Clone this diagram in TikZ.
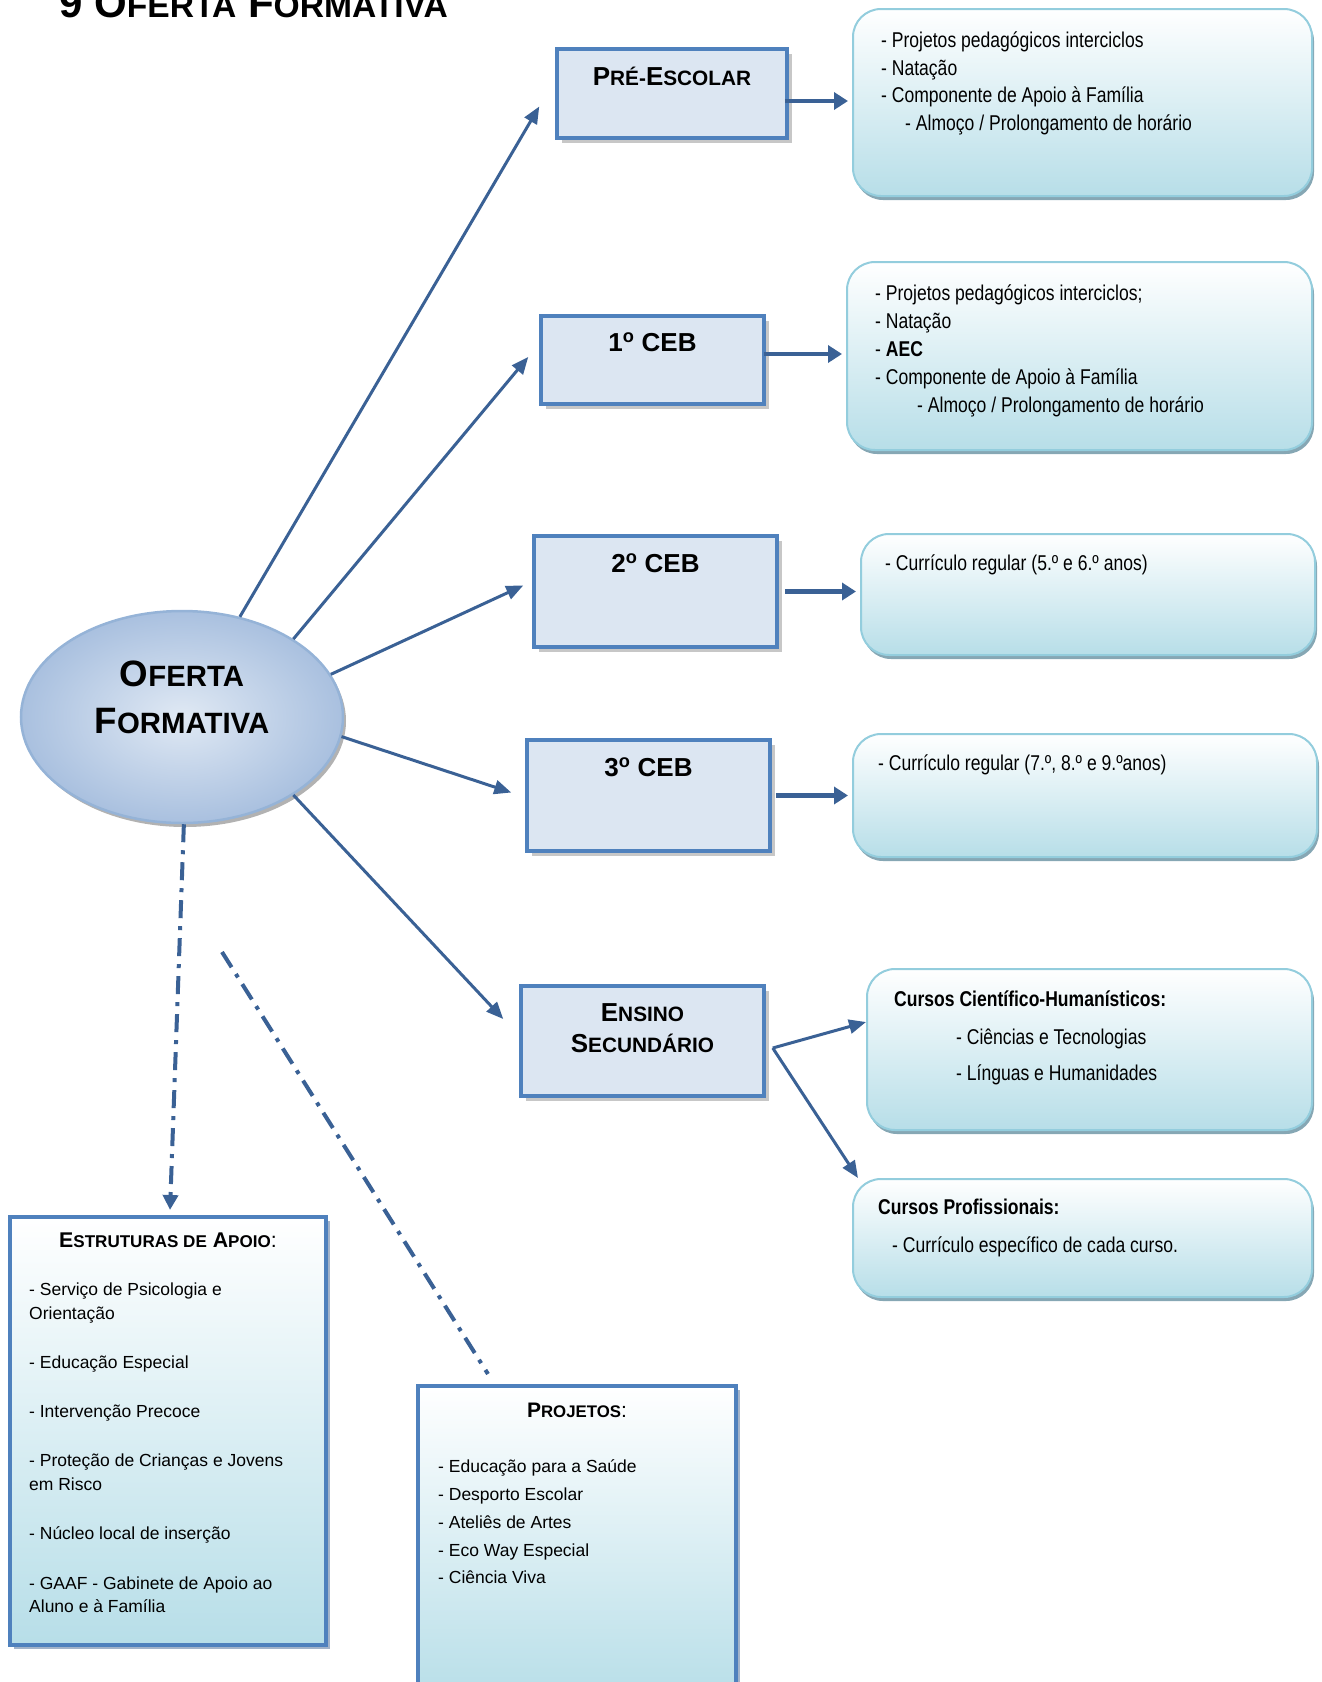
\documentclass[tikz,border=0pt]{standalone}
\usepackage{fontspec}
\setmainfont{Liberation Sans}
\newfontfamily\narrowf[FakeStretch=0.82]{Liberation Sans}
\usetikzlibrary{arrows.meta,shapes.geometric,shadows,calc}
\definecolor{boxblue}{HTML}{4F81BD}
\definecolor{boxfill}{HTML}{DCE6F2}
\definecolor{arrowc}{HTML}{3A6195}
\definecolor{infoborder}{HTML}{93CDDD}
\definecolor{infobottom}{HTML}{B7DEE8}
\definecolor{infoshadow}{HTML}{86A7B4}
\definecolor{ellborder}{HTML}{95B3D7}
\definecolor{ellin}{HTML}{E0E9F4}
\definecolor{ellout}{HTML}{A9C0DF}
\definecolor{panelshadow}{HTML}{A3B3C9}
\makeatletter
\newcommand\smc[1]{{\edef\smcsize{\strip@pt\dimexpr 0.8\dimexpr\f@size pt\relax\relax}\fontsize{\smcsize}{\smcsize}\selectfont #1}}
\makeatother
\tikzset{
  lvl/.style={draw=boxblue, line width=3.5pt, fill=boxfill, inner sep=0pt,
    drop shadow={shadow xshift=5pt, shadow yshift=-5pt, fill=black!22, opacity=1}},
  lvltext/.style={font=\bfseries\fontsize{26}{30}\selectfont, inner sep=0pt, text depth=0pt},
  info/.style={draw=infoborder, line width=2pt, rounded corners=28pt, top color=white,
    bottom color=infobottom, inner sep=0pt,
    drop shadow={shadow xshift=2pt, shadow yshift=-4pt, fill=infoshadow, opacity=1}},
  panel/.style={draw=boxblue, line width=4pt, top color=white, bottom color=infobottom, inner sep=0pt,
    drop shadow={shadow xshift=4pt, shadow yshift=-4pt, fill=panelshadow, opacity=1}},
  itxt/.style={font=\narrowf\fontsize{21.4}{28}\selectfont, inner sep=0pt, anchor=west,
    text height=15pt, text depth=5pt, yshift=-2pt},
  etxt/.style={font=\fontsize{17.5}{22}\selectfont, inner sep=0pt, anchor=west,
    text height=12.5pt, text depth=4pt, yshift=-2pt},
  arr/.style={draw=arrowc, line width=3pt, -{Triangle[length=17pt,width=14pt]}},
  harr/.style={draw=arrowc, line width=4.5pt, -{Triangle[length=14pt,width=17pt]}, shorten >=4pt},
  dd/.style={draw=arrowc, line width=4pt, dash pattern=on 18pt off 8pt on 4pt off 8pt},
}
\begin{document}
\begin{tikzpicture}[x=1pt,y=-1pt]
\useasboundingbox (0,0) rectangle (1322,1682);

% title
\node[font=\bfseries\fontsize{42}{48}\selectfont, inner sep=0pt, anchor=base west] (title) at (59,17) {9 O\smc{FERTA} F\smc{ORMATIVA}};

% central ellipse
\node[ellipse, minimum width=322pt, minimum height=212pt, draw=ellborder, line width=2.5pt,
  inner color=ellin, outer color=ellout,
  drop shadow={shadow xshift=3pt, shadow yshift=-4pt, fill=black!30, opacity=1}] (ell) at (182,717) {};
\node[font=\bfseries\fontsize{36.7}{40}\selectfont, inner sep=0pt, text depth=0pt] (ellt1) at (182,674) {O\smc{FERTA}};
\node[font=\bfseries\fontsize{36.7}{40}\selectfont, inner sep=0pt, text depth=0pt] (ellt2) at (182,721) {F\smc{ORMATIVA}};

% level boxes
\node[lvl, minimum width=230pt, minimum height=89pt] (pre) at (672,93.5) {};
\node[lvltext] (pret) at ($(pre.north)+(0,29)$) {P\smc{RÉ-}E\smc{SCOLAR}};
\node[lvl, minimum width=223pt, minimum height=88pt] (ceb1) at (652.5,360) {};
\node[lvltext] (ceb1t) at ($(ceb1.north)+(0,28)$) {1\textsuperscript{o} CEB};
\node[lvl, minimum width=243pt, minimum height=111pt] (ceb2) at (655.5,591.5) {};
\node[lvltext] (ceb2t) at ($(ceb2.north)+(0,29)$) {2\textsuperscript{o} CEB};
\node[lvl, minimum width=243pt, minimum height=111pt] (ceb3) at (648.5,795.5) {};
\node[lvltext] (ceb3t) at ($(ceb3.north)+(0,29)$) {3\textsuperscript{o} CEB};
\node[lvl, minimum width=243pt, minimum height=110pt] (sec) at (642.5,1041) {};
\node[lvltext] (sect1) at ($(sec.north)+(0,28)$) {E\smc{NSINO}};
\node[lvltext] (sect2) at ($(sec.north)+(0,59)$) {S\smc{ECUNDÁRIO}};

% info boxes
\node[info, minimum width=459pt, minimum height=187pt] (preinfo) at (1082.5,102.5) {};
\node[itxt] (pi1) at (881,40) {- Projetos pedagógicos interciclos};
\node[itxt] (pi2) at (881,68) {- Natação};
\node[itxt] (pi3) at (881,95.5) {- Componente de Apoio à Família};
\node[itxt] (pi4) at (905,123) {- Almoço / Prolongamento de horário};

\node[info, minimum width=465pt, minimum height=188pt] (c1info) at (1079.5,356) {};
\node[itxt] (ci1) at (875,293) {- Projetos pedagógicos interciclos;};
\node[itxt] (ci2) at (875,321) {- Natação};
\node[itxt] (ci3) at (875,349) {- \textbf{AEC}};
\node[itxt] (ci4) at (875,377) {- Componente de Apoio à Família};
\node[itxt] (ci5) at (917,405) {- Almoço / Prolongamento de horário};

\node[info, minimum width=454pt, minimum height=121pt] (c2info) at (1088,594.5) {};
\node[itxt] (c2i1) at (885,563) {- Currículo regular (5.º e 6.º anos)};

\node[info, minimum width=464pt, minimum height=123pt] (c3info) at (1085,795.5) {};
\node[itxt] (c3i1) at (878,763) {- Currículo regular (7.º, 8.º e 9.ºanos)};

\node[info, minimum width=445pt, minimum height=161pt] (ch) at (1089.5,1049.5) {};
\node[itxt] (chi1) at (894,999) {\textbf{Cursos Científico-Humanísticos:}};
\node[itxt] (chi2) at (956,1037) {- Ciências e Tecnologias};
\node[itxt] (chi3) at (956,1073) {- Línguas e Humanidades};

\node[info, minimum width=459pt, minimum height=118pt] (prof) at (1082.5,1238) {};
\node[itxt] (pfi1) at (878,1207) {\textbf{Cursos Profissionais:}};
\node[itxt] (pfi2) at (892,1245) {- Currículo específico de cada curso.};

% lower panels
\node[panel, minimum width=316pt, minimum height=428pt] (estr) at (168,1431) {};
\node[font=\bfseries\fontsize{21.3}{24}\selectfont, inner sep=0pt, text depth=0pt] (estrt) at (168,1240) {E\smc{STRUTURAS DE} A\smc{POIO}{\mdseries :}};
\node[etxt] (e1) at (29,1289) {- Serviço de Psicologia e};
\node[etxt] (e2) at (29,1313) {Orientação};
\node[etxt] (e3) at (29,1362) {- Educação Especial};
\node[etxt] (e4) at (29,1411) {- Intervenção Precoce};
\node[etxt] (e5) at (29,1460) {- Proteção de Crianças e Jovens};
\node[etxt] (e6) at (29,1484) {em Risco};
\node[etxt] (e7) at (29,1533) {- Núcleo local de inserção};
\node[etxt] (e8) at (29,1583) {- GAAF - Gabinete de Apoio ao};
\node[etxt] (e9) at (29,1606) {Aluno e à Família};

\node[panel, minimum width=318pt, minimum height=314pt] (proj) at (577,1543) {};
\node[font=\bfseries\fontsize{21}{24}\selectfont, inner sep=0pt, text depth=0pt] (projt) at (577,1410) {P\smc{ROJETOS}{\mdseries :}};
\node[etxt] (p1) at (438,1466) {- Educação para a Saúde};
\node[etxt] (p2) at (438,1494) {- Desporto Escolar};
\node[etxt] (p3) at (438,1522) {- Ateliês de Artes};
\node[etxt] (p4) at (438,1550) {- Eco Way Especial};
\node[etxt] (p5) at (438,1577) {- Ciência Viva};

% connectors from ellipse
\coordinate (t1) at ($(pre.west)+(-16,13)$);
\coordinate (t2) at ($(ceb1.west)+(-11,-3)$);
\coordinate (t3) at ($(ceb2.west)+(-9,-6)$);
\coordinate (t4) at ($(ceb3.west)+(-14,-3)$);
\coordinate (t5) at ($(sec.west)+(-16,-22)$);
\draw[arr] (ell.60.7) -- (t1);
\draw[arr] (ell.35.4) -- (t2);
\draw[arr] (ell.16.3) -- (t3);
\draw[arr] (ell.-7.9) -- (t4);
\draw[arr] (ell.-35.4) -- (t5);

% level -> info
\coordinate (h1) at ($(pre.east)+(-4,7.5)$);
\coordinate (h2) at ($(ceb1.east)+(-2,-6)$);
\coordinate (h3) at ($(ceb2.east)+(6,0)$);
\coordinate (h4) at ($(ceb3.east)+(4,0)$);
\draw[harr] (h1) -- (h1 -| preinfo.west);
\draw[harr] (h2) -- (h2 -| c1info.west);
\draw[harr] (h3) -- (h3 -| c2info.west);
\draw[harr] (h4) -- (h4 -| c3info.west);

% secondary
\coordinate (s0) at ($(sec.east)+(7,7)$);
\coordinate (s1) at ($(ch.west)+(0,-27.5)$);
\coordinate (s2) at ($(prof.north west)+(6,0)$);
\draw[arr] (s0) -- (s1);
\draw[arr] (s0) -- (s2);

% dash-dot connectors
\coordinate (d1) at ($(estr.north)+(2,-5)$);
\draw[dd, -{Triangle[length=15pt,width=15pt]}] (ell.-89) -- (d1);
\coordinate (d2a) at (222,952);
\coordinate (d2b) at ($(proj.north west)+(72,-10)$);
\draw[dd] (d2a) -- (d2b);
\end{tikzpicture}
\end{document}
